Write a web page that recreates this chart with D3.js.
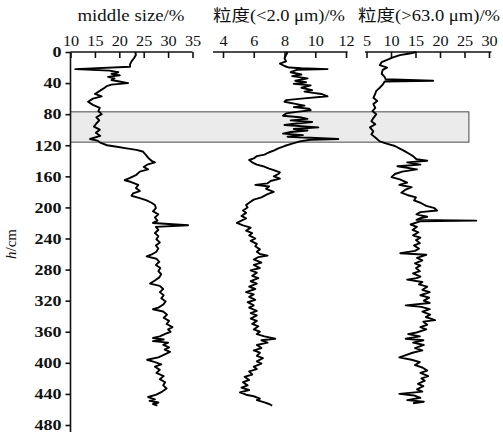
<!DOCTYPE html>
<html>
<head>
<meta charset="utf-8">
<script src="https://cdn.jsdelivr.net/npm/d3@7"></script>
<style>
  body { margin: 0; background: #fff; }
</style>
</head>
<body>
<div id="root"></div>
<script>
// depth axis (cm) and the three top axes
const depthTicks = [0, 40, 80, 120, 160, 200, 240, 280, 320, 360, 400, 440, 480];
const midTicks = [10, 15, 20, 25, 30, 35];
const clayTicks = [4, 6, 8, 10, 12];
const sandTicks = [5, 10, 15, 20, 25, 30];
const panelTitles = ["middle size/%", "粒度(<2.0 μm)/%", "粒度(>63.0 μm)/%"];
const bandDepths = [77, 116];

// middle size (%) against depth
const midDepth = [
  0, 4, 8, 12, 16, 19, 22, 24, 26, 28,
  30, 32, 34, 36, 38, 40, 42, 44, 46, 50,
  54, 57, 60, 64, 68, 72, 76, 80, 84, 88,
  92, 96, 100, 104, 108, 112, 114, 117, 120, 122,
  124, 126, 128, 132, 136, 140, 142, 145, 148, 151,
  154, 158, 162, 165, 167, 171, 175, 179, 182, 185,
  188, 191, 194, 197, 201, 205, 209, 213, 217, 220,
  223, 225, 229, 233, 237, 241, 245, 249, 253, 257,
  260, 263, 266, 270, 274, 278, 282, 286, 290, 294,
  298, 301, 305, 309, 313, 317, 321, 325, 329, 331,
  334, 338, 342, 346, 350, 354, 357, 360, 363, 366,
  368, 370, 372, 374, 377, 380, 383, 386, 390, 393,
  396, 399, 402, 405, 409, 413, 417, 421, 425, 429,
  433, 437, 441, 444, 447, 449, 451, 453, 455
];
const midValue = [
  23.3, 23.4, 23, 22.5, 22.2, 22.2, 11, 18, 19.8, 18.4,
  20.1, 17.7, 19, 18.4, 20, 21.8, 18.4, 17.4, 17, 16,
  15, 16.4, 14.6, 13.6, 14.6, 16, 15.7, 16.4, 15.3, 15.9,
  15.3, 14.8, 16, 15.2, 16.1, 14, 15.5, 16.2, 17.5, 19.5,
  21.5, 23.5, 24.8, 25.4, 25.9, 26.6, 27.3, 25.7, 25, 25.9,
  24.2, 23.5, 22.2, 21.1, 22.3, 23.9, 23.4, 24.2, 22.8, 22.5,
  24.2, 25.6, 26.6, 27.3, 27.5, 26.9, 28, 27.3, 27.8, 26.9,
  34.1, 27.5, 28, 27.3, 28, 27.6, 28.3, 27.5, 28, 27.6,
  26.8, 25.6, 27.6, 28.2, 27.5, 28.4, 28, 28.6, 28.2, 27.3,
  26.3, 28.3, 29, 28.3, 29.1, 28.6, 29.5, 29, 28, 26.9,
  29, 29.8, 29.1, 30.2, 29.7, 30.9, 30, 30.5, 29.3, 28.3,
  26.9, 29.1, 26.9, 30, 29, 30.2, 29.3, 30.4, 29, 28,
  25.7, 27.3, 28.6, 27.3, 28.3, 27.6, 29.1, 28.3, 29.4, 29,
  29.7, 28.8, 27.6, 25.9, 27.3, 26.2, 28, 26.9, 27.8
];

// fraction < 2.0 um (%) against depth
const clayDepth = [
  0, 4, 8, 12, 15, 18, 20, 21, 22, 23,
  26, 29, 31, 34, 37, 39, 41, 43, 46, 49,
  51, 54, 57, 60, 62, 64, 67, 69, 71, 73,
  75, 77, 79, 82, 84, 86, 88, 90, 92, 94,
  97, 99, 101, 103, 105, 107, 109, 112, 113, 115,
  118, 121, 124, 127, 129, 132, 134, 137, 139, 142,
  145, 147, 150, 152, 155, 157, 160, 163, 166, 169,
  171, 173, 176, 180, 183, 187, 190, 194, 197, 200,
  204, 207, 211, 214, 217, 220, 223, 226, 230, 233,
  236, 240, 243, 247, 250, 254, 257, 260, 262, 264,
  267, 271, 274, 278, 281, 284, 288, 291, 295, 298,
  302, 305, 309, 312, 315, 319, 322, 326, 329, 333,
  336, 339, 343, 346, 350, 353, 357, 360, 363, 366,
  369, 371, 374, 377, 381, 384, 387, 391, 394, 398,
  401, 405, 408, 411, 415, 418, 422, 425, 429, 432,
  435, 438, 441, 443, 446, 448, 451, 453, 455
];
const clayValue = [
  8.2, 8.1, 8, 8.1, 7.7, 8, 8.3, 9.1, 10.8, 8.8,
  8.4, 9.1, 8.5, 9.5, 8.7, 9.4, 8.6, 9.7, 9.1, 9.8,
  9.3, 10.4, 10.8, 9.1, 8.1, 8, 8.8, 9.3, 8.6, 9.6,
  9.7, 8.8, 8.1, 7.9, 9, 9.5, 8.4, 9.8, 8.8, 8,
  10.2, 8.6, 9.5, 8.4, 7.9, 9.2, 8.2, 11.5, 9.7, 9,
  8.5, 8, 7.6, 7.3, 7, 6.7, 6.2, 6, 5.7, 5.9,
  6.2, 6.6, 7, 7.3, 7.7, 7.6, 7.3, 7.7, 7.1, 6.9,
  6.1, 7, 6.8, 7.3, 6.9, 6.5, 6, 5.7, 5.5, 5.6,
  5.3, 5.5, 5.2, 5.5, 5.2, 4.9, 5.3, 5.8, 5.5, 5.9,
  5.7, 6.1, 5.8, 6.2, 6.1, 6.4, 6.2, 6.4, 6.9, 6.3,
  6, 6.5, 6, 6.4, 5.8, 6.2, 5.9, 6.3, 5.8, 6.2,
  5.7, 6.1, 5.5, 6, 5.7, 6.1, 5.6, 6, 5.7, 6.2,
  5.8, 6.2, 5.8, 6.2, 5.9, 6.3, 6, 6.4, 6.2, 6.7,
  7.4, 6.5, 6.9, 6.2, 6.5, 6, 6.4, 6.2, 6.6, 6.2,
  6.5, 6, 6.2, 5.7, 5.9, 5.4, 5.7, 5.3, 5.6, 5.2,
  5.7, 5.1, 5.5, 6, 6.4, 6.2, 6.7, 7, 7.2
];

// fraction > 63.0 um (%) against depth
const sandDepth = [
  0, 2, 4, 7, 10, 13, 17, 20, 23, 28,
  32, 35, 37, 38, 42, 46, 50, 55, 59, 63,
  67, 72, 76, 80, 85, 89, 93, 97, 102, 106,
  110, 115, 118, 121, 124, 127, 131, 134, 138, 140,
  142, 145, 147, 151, 154, 157, 161, 164, 168, 171,
  174, 177, 181, 184, 187, 191, 194, 198, 201, 204,
  206, 209, 212, 214, 216, 217, 218, 222, 225, 229,
  232, 236, 239, 242, 246, 249, 253, 256, 259, 261,
  265, 268, 272, 275, 278, 282, 285, 289, 291, 293,
  296, 299, 302, 306, 309, 313, 316, 320, 323, 326,
  328, 331, 334, 338, 341, 345, 347, 351, 354, 357,
  361, 363, 366, 369, 371, 374, 377, 381, 384, 387,
  391, 393, 396, 399, 403, 406, 410, 413, 417, 420,
  423, 427, 430, 434, 437, 440, 442, 445, 448, 450,
  452
];
const sandValue = [
  15.2, 13.8, 11.8, 10.4, 9.2, 8.1, 7.7, 9.2, 8.3, 8.1,
  8.7, 8.9, 18.6, 8.7, 8.3, 7.7, 7, 6.7, 6.4, 7.2,
  6.4, 6.8, 6.2, 7, 6.4, 6, 6.8, 5.7, 6.4, 6,
  6.8, 7.7, 9.1, 10.8, 11.7, 12.6, 13.7, 14.5, 15.2, 17.4,
  13.3, 16, 11.3, 15.3, 12.3, 10.8, 10.1, 11.8, 13.3, 11.7,
  14.2, 13, 12.1, 13.3, 15.1, 14.7, 16, 17.2, 18.9, 19.4,
  16, 15.2, 17.4, 15.9, 15.2, 27.4, 15.9, 14, 15.3, 14.4,
  15.6, 14.5, 16, 15.1, 15.9, 14.7, 15.7, 14.9, 11.9, 17.2,
  15.3, 16.4, 14.9, 16, 15.1, 15.9, 14.5, 16, 15.2, 13.3,
  16.4, 15.7, 17.4, 16.4, 17.9, 16, 17.8, 16.7, 17.9, 13,
  16.2, 17.9, 16.4, 18, 17.1, 19, 16.6, 17.4, 16, 17.2,
  15.2, 13.5, 15.9, 13, 16.6, 14.5, 16.7, 14.9, 16.4, 14.4,
  12.6, 11.7, 14.2, 15.9, 14.9, 16.4, 17.4, 16, 17.6, 16.2,
  16.9, 15.5, 16.6, 15.3, 16.4, 11.7, 14.7, 16, 13.3, 16.7,
  14.5
];

const width = 503;
const height = 437;
const serif = "\"Liberation Serif\", \"Noto Sans CJK SC\", serif";

const svg = d3.select("#root").append("svg")
  .attr("width", width)
  .attr("height", height);

const y = d3.scaleLinear().domain([0, 480]).range([52, 425]);
const axisX = 70.5;

const panels = [
  {
    title: panelTitles[0], ticks: midTicks, depth: midDepth, value: midValue,
    x: d3.scaleLinear().domain([10, 35]).range([axisX, 192.5]),
    extent: [10, 35], titleX: 131, titleLen: 107,
  },
  {
    title: panelTitles[1], ticks: clayTicks, depth: clayDepth, value: clayValue,
    x: d3.scaleLinear().domain([4, 12]).range([223, 346]),
    extent: [3.35, 12.1], titleX: 279, titleLen: 132,
  },
  {
    title: panelTitles[2], ticks: sandTicks, depth: sandDepth, value: sandValue,
    x: d3.scaleLinear().domain([5, 30]).range([366.5, 489]),
    extent: [4.7, 30.5], titleX: 429, titleLen: 142,
  },
];

// shaded depth band across all panels
svg.append("rect")
  .attr("x", axisX)
  .attr("y", y(bandDepths[0]))
  .attr("width", panels[2].x(25.9) - axisX)
  .attr("height", y(bandDepths[1]) - y(bandDepths[0]))
  .attr("fill", "#ebebeb")
  .attr("stroke", "#4a4a4a")
  .attr("stroke-width", 1);

// depth axis
const yAxis = svg.append("g")
  .attr("transform", `translate(${axisX},0)`)
  .call(d3.axisLeft(y).tickValues(depthTicks).tickSize(5).tickPadding(4));
yAxis.select(".domain").remove();
yAxis.append("line")
  .attr("y1", y(0))
  .attr("y2", y(489))
  .attr("stroke", "#111")
  .attr("stroke-width", 1.6);
yAxis.selectAll("line").attr("stroke", "#111").attr("stroke-width", 1.6);
yAxis.selectAll("text")
  .style("font-family", serif)
  .style("font-size", "15px")
  .style("font-weight", "bold")
  .attr("fill", "#111")
  .attr("transform", "scale(1.2,1)")
  .attr("x", -7.5);

svg.append("text")
  .attr("transform", `translate(16,244) rotate(-90)`)
  .attr("text-anchor", "middle")
  .style("font-family", serif)
  .style("font-size", "15px")
  .attr("fill", "#111")
  .call(t => {
    t.append("tspan").style("font-style", "italic").text("h");
    t.append("tspan").text("/cm");
  });

const line = d3.line();

panels.forEach(p => {
  const g = svg.append("g").attr("transform", `translate(0,${y(0)})`);
  const ax = d3.axisTop(p.x).tickValues(p.ticks).tickSizeInner(-6).tickSizeOuter(0).tickPadding(6);
  g.call(ax);
  g.select(".domain").remove();
  g.append("line")
    .attr("x1", p.x(p.extent[0]))
    .attr("x2", p.x(p.extent[1]))
    .attr("stroke", "#111")
    .attr("stroke-width", 1.6);
  g.selectAll(".tick line").attr("stroke", "#111").attr("stroke-width", 1.6);
  g.selectAll(".tick text")
    .style("font-family", serif)
    .style("font-size", "15px")
    .attr("fill", "#111")
    .attr("transform", "scale(1.08,1)");

  svg.append("text")
    .attr("x", p.titleX)
    .attr("y", 21)
    .attr("text-anchor", "middle")
    .style("font-family", serif)
    .style("font-size", "16px")
    .attr("fill", "#111")
    .attr("textLength", p.titleLen)
    .attr("lengthAdjust", "spacingAndGlyphs")
    .text(p.title);

  const pts = p.depth.map((d, i) => [p.x(p.value[i]), y(d)]);
  svg.append("path")
    .attr("d", line(pts))
    .attr("fill", "none")
    .attr("stroke", "#000")
    .attr("stroke-width", 1.9)
    .attr("stroke-linejoin", "round");
});
</script>
</body>
</html>
